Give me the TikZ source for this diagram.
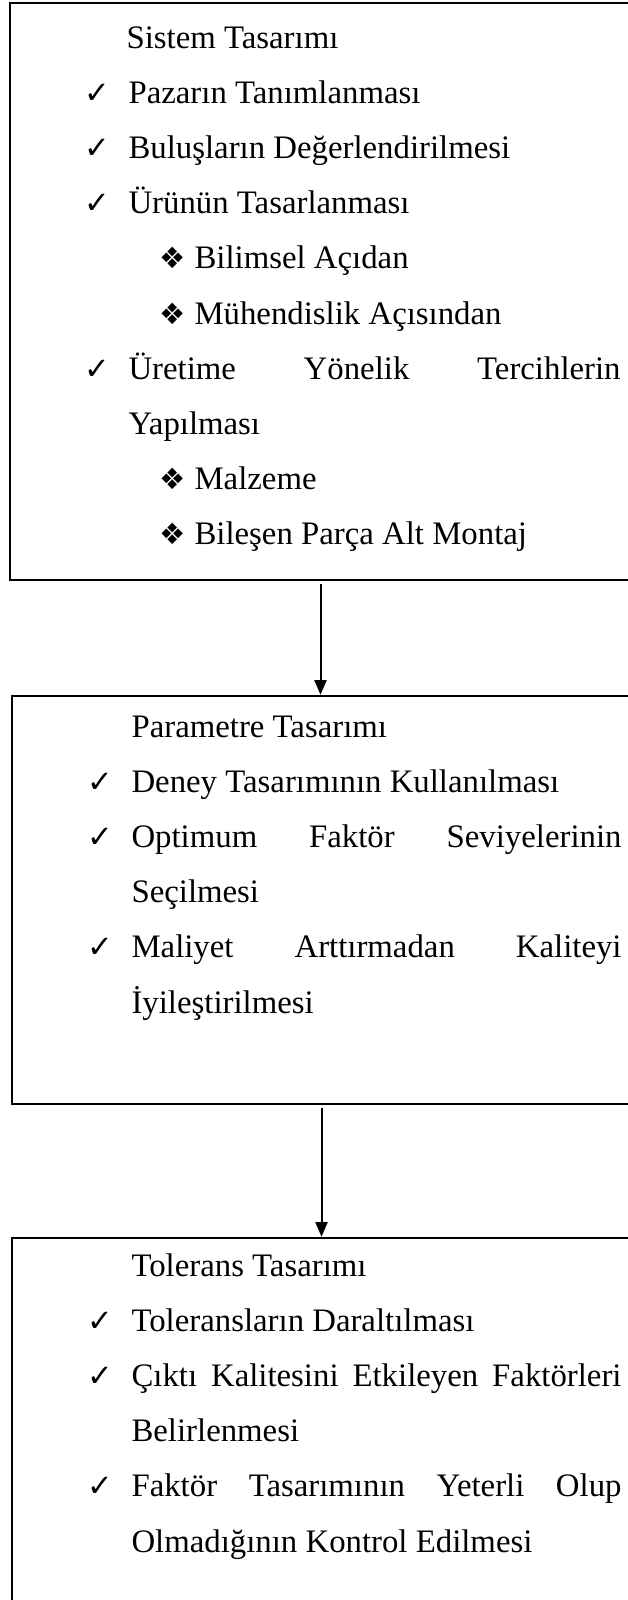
\documentclass[tikz,border=0pt]{standalone}
\usepackage{fontspec}
\setmainfont{Liberation Serif}
\newfontfamily\dingfont{DejaVu Sans}
\usetikzlibrary{arrows.meta}
\tolerance=10000
\hyphenpenalty=10000

\tikzset{
  panel/.style={draw,line width=0.9pt,inner sep=0pt},
  flow/.style={-{Triangle[width=4.5pt,length=5.5pt]},line width=0.75pt,shorten <=1pt},
  txt/.style={anchor=base west,inner sep=0pt},
  para/.style={txt,text width=#1,align=justify},
  tick/.style={txt,font=\dingfont\fontsize{11.5}{11.5}\selectfont},
  diam/.style={txt,font=\dingfont\fontsize{11}{11}\selectfont},
}

\begin{document}
\begin{tikzpicture}[x=0.375pt,y=-0.375pt,font=\fontsize{12.3}{20.7}\selectfont]
  \useasboundingbox (0,0) rectangle (628,1600);
  \clip (0,0) rectangle (628,1600);
  % the three stages
  \node[panel,minimum width=232.9pt,minimum height=216.4pt] (sys) at (320.5,291.5) {};
  \node[panel,minimum width=232.1pt,minimum height=153pt] (par) at (321.5,900) {};
  \node[panel,minimum width=232.1pt,minimum height=150.75pt] (tol) at (321.5,1439) {};
  \draw[flow] (sys.south) -- (sys.south |- par.north);
  \draw[flow] (par.south) -- (par.south |- tol.north);

  % sistem
  \node[txt] (sysh) at (126,48) {Sistem Tasarımı};
  \node[tick] (sysc1) at (84,103.2) {✓};
  \node[txt] (sys1) at (128,103.2) {Pazarın Tanımlanması};
  \node[tick] (sysc2) at (84,158.4) {✓};
  \node[txt] (sys2) at (128,158.4) {Buluşların Değerlendirilmesi};
  \node[tick] (sysc3) at (84,213.6) {✓};
  \node[txt] (sys3) at (128,213.6) {Ürünün Tasarlanması};
  \node[diam] (sysd1) at (159,268.8) {❖};
  \node[txt] (sys31) at (194,268.8) {Bilimsel Açıdan};
  \node[diam] (sysd2) at (159,324) {❖};
  \node[txt] (sys32) at (194,324) {Mühendislik Açısından};
  \node[tick] (sysc4) at (84,379.2) {✓};
  \node[para=184.5pt] (sys4) at (128,379.2) {Üretime Yönelik Tercihlerin\linebreak Yapılması};
  \node[diam] (sysd3) at (159,489.6) {❖};
  \node[txt] (sys41) at (194,489.6) {Malzeme};
  \node[diam] (sysd4) at (159,544.8) {❖};
  \node[txt] (sys42) at (194,544.8) {Bileşen Parça Alt Montaj};

  % parametre
  \node[txt] (parh) at (131,737) {Parametre Tasarımı};
  \node[tick] (parc1) at (87,792.2) {✓};
  \node[txt] (par1) at (131,792.2) {Deney Tasarımının Kullanılması};
  \node[tick] (parc2) at (87,847.4) {✓};
  \node[para=183.75pt] (par2) at (131,847.4) {Optimum Faktör Seviyelerinin Seçilmesi};
  \node[tick] (parc3) at (87,957.8) {✓};
  \node[para=183.75pt] (par3) at (131,957.8) {Maliyet Arttırmadan Kaliteyi İyileştirilmesi};

  % tolerans
  \node[txt] (tolh) at (131,1276) {Tolerans Tasarımı};
  \node[tick] (tolc1) at (87,1331.2) {✓};
  \node[txt] (tol1) at (131,1331.2) {Toleransların Daraltılması};
  \node[tick] (tolc2) at (87,1386.4) {✓};
  \node[para=183.75pt] (tol2) at (131,1386.4) {Çıktı Kalitesini Etkileyen Faktörleri Belirlenmesi};
  \node[tick] (tolc3) at (87,1496.8) {✓};
  \node[para=183.75pt] (tol3) at (131,1496.8) {Faktör Tasarımının Yeterli Olup Olmadığının Kontrol Edilmesi};
\end{tikzpicture}
\end{document}
